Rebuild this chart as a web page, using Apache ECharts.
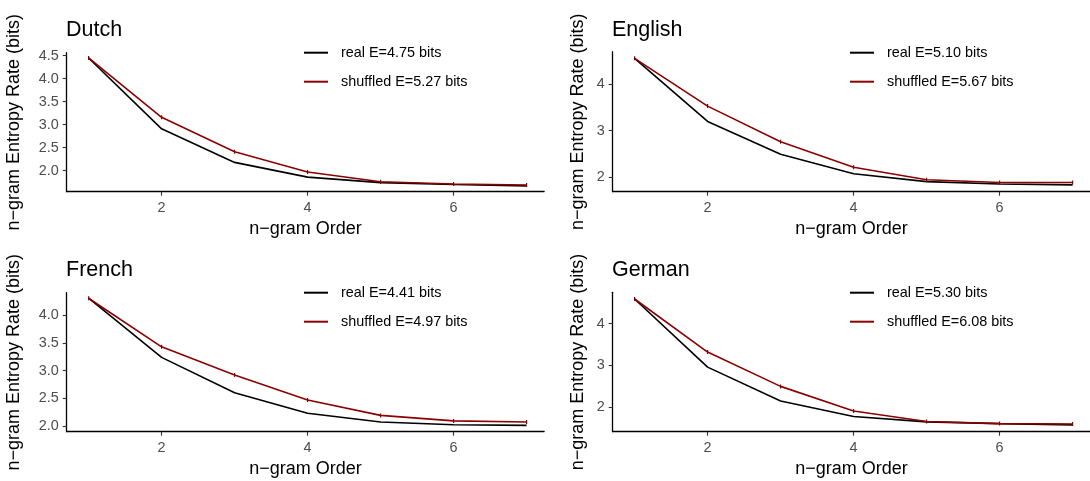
<!DOCTYPE html>
<html>
<head>
<meta charset="utf-8">
<script src="https://cdn.jsdelivr.net/npm/echarts@6/dist/echarts.min.js"></script>
<style>
  html, body { margin: 0; padding: 0; background: #fff; }
  #main { width: 1090px; height: 481px; }
</style>
</head>
<body>
<div id="main"></div>
<script>
// n-gram order on the x axis
var orders = [1, 2, 3, 4, 5, 6, 7];
var xTicks = [2, 4, 6];

// entropy rate (bits)
var dutchReal   = [4.45, 2.91, 2.18, 1.86, 1.74, 1.70, 1.67];
var dutchShuf   = [4.45, 3.16, 2.41, 1.97, 1.76, 1.71, 1.69];
var englishReal = [4.56, 3.20, 2.49, 2.07, 1.90, 1.85, 1.83];
var englishShuf = [4.56, 3.53, 2.76, 2.21, 1.94, 1.88, 1.88];
var frenchReal  = [4.31, 3.24, 2.60, 2.23, 2.07, 2.02, 2.01];
var frenchShuf  = [4.31, 3.43, 2.92, 2.47, 2.19, 2.09, 2.07];
var germanReal  = [4.59, 2.96, 2.15, 1.78, 1.65, 1.61, 1.58];
var germanShuf  = [4.59, 3.32, 2.50, 1.91, 1.66, 1.61, 1.60];

// y tick labels per panel
var dutchTicks   = [2.0, 2.5, 3.0, 3.5, 4.0, 4.5];
var englishTicks = [2, 3, 4];
var frenchTicks  = [2.0, 2.5, 3.0, 3.5, 4.0];
var germanTicks  = [2, 3, 4];

var languages = ['Dutch', 'English', 'French', 'German'];
var realLabels = ['real E=4.75 bits', 'real E=5.10 bits', 'real E=4.41 bits', 'real E=5.30 bits'];
var shufLabels = ['shuffled E=5.27 bits', 'shuffled E=5.67 bits', 'shuffled E=4.97 bits', 'shuffled E=6.08 bits'];

var realData = [dutchReal, englishReal, frenchReal, germanReal];
var shufData = [dutchShuf, englishShuf, frenchShuf, germanShuf];
var yTicks = [dutchTicks, englishTicks, frenchTicks, germanTicks];
var yDecimals = [1, 0, 1, 0];

// layout (pixels) and axis ranges per panel
var panelLeft  = [66.7, 612.7, 66.7, 612.7];
var panelTop   = [52.7, 51.7, 292.7, 292.3];
var panelBot   = [191.7, 191.7, 431.7, 431.7];
var yMin = [1.543, 1.683, 1.895, 1.416];
var yMax = [4.565, 4.704, 4.41, 4.75];
var yNameGap = [53, 35, 53, 35];
var xMin = 0.7, xMax = 7.24, pxPerOrder = 73;

var FONT = '"Liberation Sans", Arial, Helvetica, sans-serif';
var REAL = '#000000', SHUF = '#8b0000';

var chart = echarts.init(document.getElementById('main'), null, { renderer: 'canvas' });

var grids = [], xAxes = [], yAxes = [], series = [], legends = [], graphics = [];

languages.forEach(function (lang, i) {
  var colOff = (i % 2) * 546;
  var rowOff = Math.floor(i / 2) * 240;

  grids.push({
    left: panelLeft[i],
    top: panelTop[i],
    width: (xMax - xMin) * pxPerOrder,
    height: panelBot[i] - panelTop[i],
    outerBoundsMode: 'none'
  });

  xAxes.push({
    type: 'value', gridIndex: i, min: xMin, max: xMax,
    name: 'n\u2212gram Order', nameLocation: 'middle', nameGap: 37,
    nameTextStyle: { fontFamily: FONT, fontSize: 18, color: '#000', verticalAlign: 'middle' },
    axisLine: { show: true, onZero: false, lineStyle: { color: '#000', width: 1.3 } },
    axisTick: { show: true, length: 4, customValues: xTicks, lineStyle: { color: '#333', width: 1.1 } },
    axisLabel: { customValues: xTicks, margin: 9, fontFamily: FONT, fontSize: 14.4, color: '#4d4d4d' },
    splitLine: { show: false }
  });

  var dec = yDecimals[i];
  yAxes.push({
    type: 'value', gridIndex: i, min: yMin[i], max: yMax[i],
    name: 'n\u2212gram Entropy Rate (bits)', nameLocation: 'middle', nameRotate: 90, nameGap: yNameGap[i],
    nameTextStyle: { fontFamily: FONT, fontSize: 18, color: '#000', verticalAlign: 'middle' },
    axisLine: { show: true, onZero: false, lineStyle: { color: '#000', width: 1.3 } },
    axisTick: { show: true, length: 4, customValues: yTicks[i], lineStyle: { color: '#333', width: 1.1 } },
    axisLabel: {
      customValues: yTicks[i], margin: 8, fontFamily: FONT, fontSize: 14.4, color: '#4d4d4d',
      formatter: function (v) { return Number(v).toFixed(dec); }
    },
    splitLine: { show: false }
  });

  series.push({
    name: realLabels[i], type: 'line', xAxisIndex: i, yAxisIndex: i,
    data: orders.map(function (o, k) { return [o, realData[i][k]]; }),
    showSymbol: false, symbol: 'none',
    lineStyle: { color: REAL, width: 1.6 }, itemStyle: { color: REAL },
    animation: false, z: 2
  });
  series.push({
    name: shufLabels[i], type: 'line', xAxisIndex: i, yAxisIndex: i,
    data: orders.map(function (o, k) { return [o, shufData[i][k]]; }),
    symbol: 'rect', symbolSize: [1.2, 4], showSymbol: true,
    lineStyle: { color: SHUF, width: 1.6 }, itemStyle: { color: SHUF },
    animation: false, z: 3
  });

  legends.push({
    data: [realLabels[i], shufLabels[i]],
    orient: 'vertical',
    left: 304 + colOff, top: 38.2 + rowOff,
    icon: 'rect', itemWidth: 24, itemHeight: 2, itemGap: 0,
    padding: 0,
    textStyle: { fontFamily: FONT, fontSize: 14.4, color: '#000', lineHeight: 29, padding: [0, 0, 0, 8] },
    selectedMode: false
  });

  graphics.push({
    type: 'text', left: 66 + colOff, top: 19 + rowOff,
    style: { text: lang, fontFamily: FONT, fontSize: 21.5, fill: '#000' }
  });
});

chart.setOption({
  backgroundColor: '#ffffff',
  animation: false,
  grid: grids,
  xAxis: xAxes,
  yAxis: yAxes,
  legend: legends,
  graphic: graphics,
  series: series
});
</script>
</body>
</html>
